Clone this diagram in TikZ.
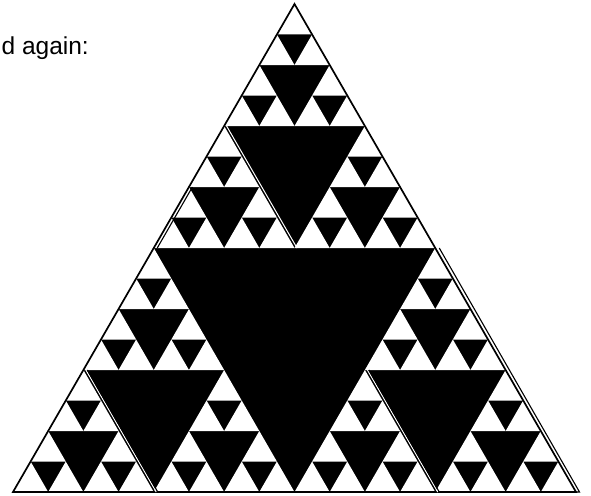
\documentclass[tikz,border=0pt]{standalone}
\usepackage{fontspec}
\setmainfont{Liberation Sans}
\begin{document}
\begin{tikzpicture}[x=1pt,y=-1pt,
  outline/.style={draw=black,line width=1.7pt,line join=miter},
  hole/.style={fill=white},
  seam/.style={draw=black,line width=1.1pt},
  gap/.style={draw=white,line width=1pt},
  label/.style={font=\fontsize{24.5}{28}\selectfont,inner sep=0pt}]
\useasboundingbox (0,0) rectangle (591,495);
% outer triangle
\coordinate (A) at (294.5,4);
\coordinate (B) at (13,492);
\coordinate (C) at (576,492);
\fill[black] (A) -- (B) -- (C) -- cycle;
% white upward triangles (depth 4)
\foreach \a in {0,1,2}{\foreach \b in {0,1,2}{\foreach \c in {0,1,2}{\foreach \d in {0,1,2}{
  \pgfmathsetmacro\px{13+(\a==1)*281.5+(\a==2)*140.75+(\b==1)*140.75+(\b==2)*70.375+(\c==1)*70.375+(\c==2)*35.1875+(\d==1)*35.1875+(\d==2)*17.59375}
  \pgfmathsetmacro\py{492-(\a==2)*244-(\b==2)*122-(\c==2)*61-(\d==2)*30.5}
  \fill[hole] (\px,\py) -- ++(35.1875,0) -- ++(-17.59375,-30.5) -- cycle;
}}}}
\draw[outline] (A) -- (B) -- (C) -- cycle;
% doubled edges left by the copied pieces
\coordinate (R1) at (439.25,248);
\coordinate (R2) at (579.5,492);
\draw[seam] (R1) -- (R2) -- (C);
% left edge of the top piece
\coordinate (L1) at (192.4,187);
\coordinate (L2) at (157.25,248);
\draw[seam] (L1) -- (L2);
% seams inside the pieces
\coordinate (S1) at (226.6,126);
\coordinate (S2) at (297,248);
\draw[gap] (S1) -- (S2);
\coordinate (S3) at (367.4,370);
\coordinate (S4) at (437.75,492);
\draw[gap] (S3) -- (S4);
\coordinate (S5) at (368.9,370);
\coordinate (S6) at (439.25,492);
\draw[seam] (S5) -- (S6);
\coordinate (S7) at (85.9,370);
\coordinate (S8) at (156.25,492);
\draw[gap] (S7) -- (S8);
\coordinate (S9) at (87.4,370);
\coordinate (S10) at (157.75,492);
\draw[seam] (S9) -- (S10);
\node[label,anchor=base east] (t) at (89,55) {d again:};
\end{tikzpicture}
\end{document}
